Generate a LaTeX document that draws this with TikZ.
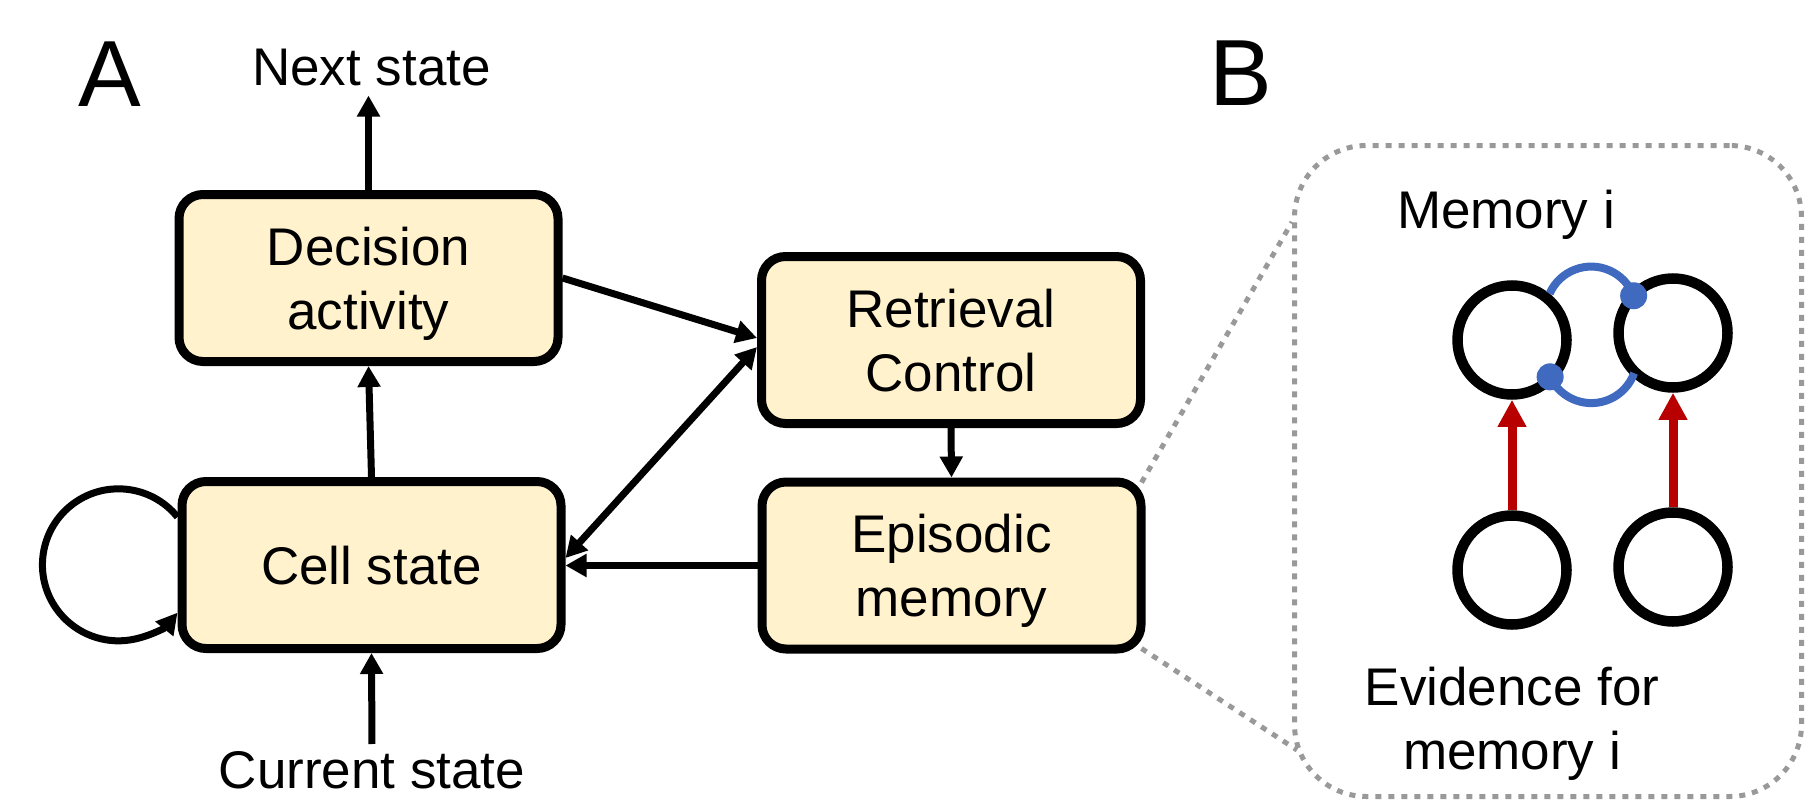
\documentclass[tikz,border=0pt]{standalone}
\usepackage{fontspec}
\setmainfont{Liberation Sans}
\usetikzlibrary{arrows.meta}
\definecolor{boxfill}{HTML}{FFF2CC}
\definecolor{zoomgray}{HTML}{999999}
\definecolor{linkblue}{HTML}{3F6ABF}
\definecolor{evred}{HTML}{B80000}

\begin{document}
\begin{tikzpicture}[x=1pt,y=-1pt,
  every node/.style={inner sep=0pt, outer sep=0pt},
  lbl/.style={font=\fontsize{53}{64}\selectfont, align=center},
  panel/.style={font=\fontsize{94}{100}\selectfont},
  block/.style={draw=black, line width=9pt, fill=boxfill, rounded corners=24pt,
    minimum width=379pt, minimum height=167pt, outer sep=4.5pt,
    font=\fontsize{53}{64}\selectfont, align=center, text depth=0pt},
  conn/.style={line width=7pt, -{Triangle[length=21pt,width=22pt]}},
  unit/.style={circle, draw=black, line width=10.5pt, minimum size=109pt, outer sep=5.25pt},
  evid/.style={draw=evred, line width=9pt, -{Triangle[length=27pt,width=27pt]}},
  link/.style={draw=linkblue, line width=8pt},
  zoomline/.style={draw=zoomgray, line width=5pt, dash pattern=on 6pt off 7pt}
]
\useasboundingbox (0,0) rectangle (1807,803);

% panel letters
\node[panel, anchor=base] (pa) at (110,106) {A};
\node[panel, anchor=base] (pb) at (1240.5,105) {B};

% panel A: processing blocks
\node[block] (dec)  at (368.5,278) {Decision\\activity};
\node[block] (cell) at (371.5,565)   {Cell state};
\node[block] (ret)  at (951,340)     {Retrieval\\Control};
\node[block] (epi)  at (951.5,565.5) {Episodic\\memory};

\node[lbl, anchor=base] (next) at (371.5,85) {Next state};
\node[lbl, anchor=base] (cur)  at (372,788)  {Current state};

% panel A: connections
\draw[conn, shorten >=10pt] (dec.north) -- (dec.north |- next.south);
\draw[conn] (cell.north) -- (dec.south);
\draw[conn, shorten <=7pt] (cur.north) -- (cell.south);
\draw[conn] (dec.east) -- ([yshift=2pt]ret.west);
\draw[conn, {Triangle[length=21pt,width=22pt]}-{Triangle[length=21pt,width=22pt]}]
  ([yshift=7pt]cell.east) -- ([yshift=-7pt]ret.west);
\draw[conn] (epi.west) -- (epi.west -| cell.east);
\draw[conn] (ret.south) -- (epi.north);
\draw[conn] ([yshift=48pt]cell.west) arc[start angle=39, end angle=321, radius=76pt];

% panel B: zoomed view of episodic memory
\node[draw=zoomgray, line width=5pt, dash pattern=on 6pt off 7pt, rounded corners=72pt,
  minimum width=507pt, minimum height=651pt] (zoom) at (1548,471) {};
\coordinate (zt) at (1292,222);
\coordinate (zb) at (1297,750);
\draw[zoomline] ([xshift=-4pt,yshift=-5pt]epi.north east) -- (zt);
\draw[zoomline] ([xshift=-4pt,yshift=5pt]epi.south east) -- (zb);

\node[lbl, anchor=base]  (memlbl) at (1506,228) {Memory i};
\node[lbl, anchor=north] (evlbl)  at (1512,667) {Evidence for\\memory i};

\node[unit] (m1) at (1512,340) {};
\node[unit] (m2) at (1673,333) {};
\node[unit] (e1) at (1512,570) {};
\node[unit] (e2) at (1673,567) {};

\draw[evid] (e1) -- (m1);
\draw[evid] (e2) -- (m2);

% mutual inhibition between the two memory units
\draw[link] (m1.51) arc[start angle=156, end angle=21, radius=45.5pt] coordinate (d1);
\fill[linkblue] (d1) circle[radius=13.5pt];
\draw[link] (m1.center) ++(-44:53pt) coordinate (d2)
  arc[start angle=205, end angle=340, radius=45.5pt];
\fill[linkblue] (d2) circle[radius=13.5pt];
\end{tikzpicture}
\end{document}
